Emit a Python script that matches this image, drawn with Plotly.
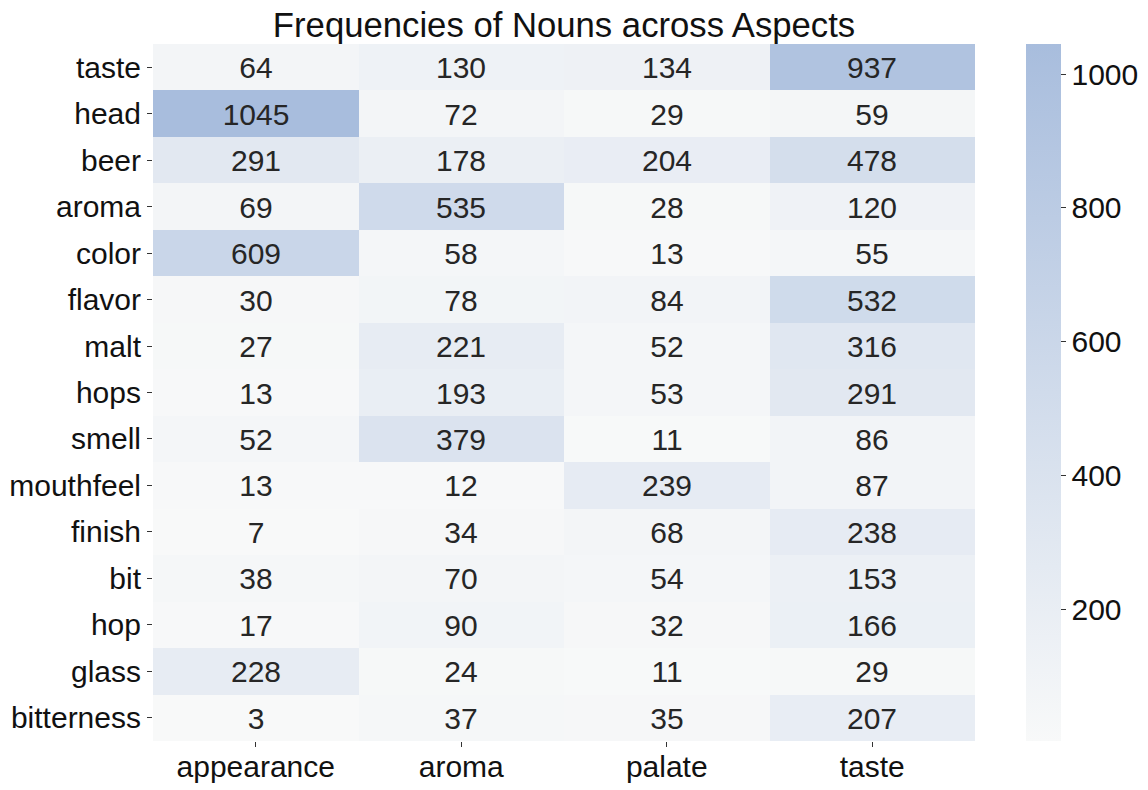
import plotly.graph_objects as go

aspects = ["appearance", "aroma", "palate", "taste"]
nouns = ["taste", "head", "beer", "aroma", "color", "flavor", "malt", "hops", "smell",
         "mouthfeel", "finish", "bit", "hop", "glass", "bitterness"]
appearance = [64, 1045, 291, 69, 609, 30, 27, 13, 52, 13, 7, 38, 17, 228, 3]
aroma = [130, 72, 178, 535, 58, 78, 221, 193, 379, 12, 34, 70, 90, 24, 37]
palate = [134, 29, 204, 28, 13, 84, 52, 53, 11, 239, 68, 54, 32, 11, 35]
taste = [937, 59, 478, 120, 55, 532, 316, 291, 86, 87, 238, 153, 166, 29, 207]

z = [[appearance[i], aroma[i], palate[i], taste[i]] for i in range(len(nouns))]

font = "Liberation Sans, Arial, sans-serif"
fs = 30
W, H = 1132, 782
fig = go.Figure(go.Heatmap(
    z=z, x=aspects, y=nouns,
    colorscale=[[0, "#f8f9f9"], [1, "#a8bddd"]],
    zmin=3, zmax=1045,
    texttemplate="%{z}",
    textfont=dict(size=fs, color="#262626", family=font),
    xgap=0, ygap=0,
    colorbar=dict(
        x=(1018 - 145) / 822, xanchor="left", xpad=0, ypad=0,
        thickness=35, len=1, lenmode="fraction",
        y=0.5, yanchor="middle", yref="paper",
        outlinewidth=0, tickvals=[200, 400, 600, 800, 1000],
        ticks="outside", ticklen=5, tickcolor="#333",
        tickfont=dict(size=fs, color="#111", family=font),
    ),
))
fig.update_layout(
    width=W, height=H,
    margin=dict(l=145, r=165, t=36, b=49, autoexpand=False),
    paper_bgcolor="white", plot_bgcolor="white",
    title=dict(text="Frequencies of Nouns across Aspects", x=0.5, xref="paper",
               xanchor="center", y=1 - 17 / H, yref="container", yanchor="middle",
               automargin=False,
               font=dict(size=34.7, color="#111", family=font)),
    font=dict(family=font),
)
fig.update_xaxes(tickfont=dict(size=fs, color="#111"), ticks="outside", ticklen=5,
                 tickcolor="#333", showgrid=False, zeroline=False, showline=False,
                 automargin=False, ticklabelstandoff=-6)
fig.update_yaxes(autorange="reversed", tickfont=dict(size=fs, color="#111"), ticks="outside",
                 ticklen=5, tickcolor="#333", showgrid=False, zeroline=False, showline=False,
                 automargin=False)
fig.write_html("out.html")
